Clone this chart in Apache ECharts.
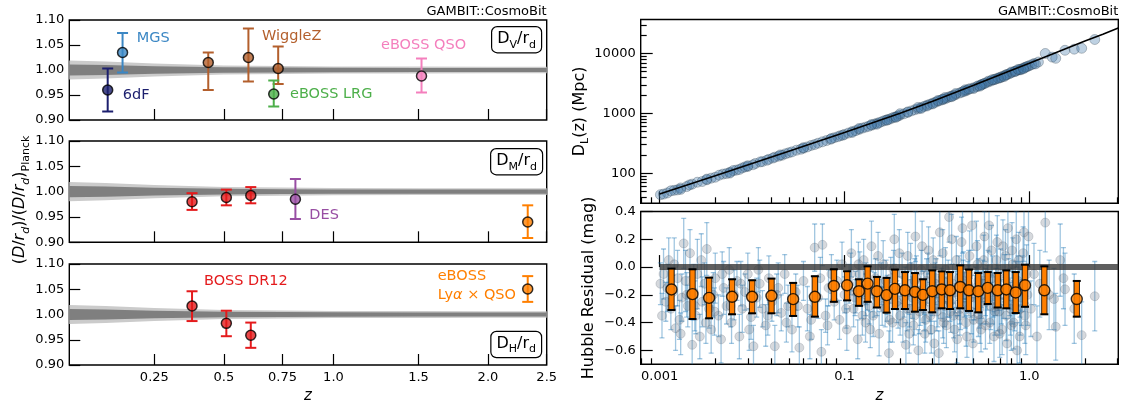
<!DOCTYPE html>
<html><head><meta charset="utf-8">
<script src="https://cdn.jsdelivr.net/npm/echarts@6/dist/echarts.min.js"></script>
<style>html,body{margin:0;padding:0;background:#fff}#c{width:1126px;height:401px}</style>
</head><body><div id="c"></div><script>
const FONT = 'DejaVu Sans';

// ---------- left: BAO ratios ----------
const lxTicks = [0.25, 0.5, 0.75, 1.0, 1.5, 2.0, 2.5];
const lxLabels = ['0.25', '0.5', '0.75', '1.0', '1.5', '2.0', '2.5'];
const bandZ = [0, 0.1, 0.25, 0.5, 0.75, 1.0, 1.5, 2.0, 2.5];
const bandOuter = [0.019, 0.017, 0.013, 0.009, 0.008, 0.007, 0.0068, 0.0065, 0.0065];
const bandInner = [0.011, 0.010, 0.0075, 0.0055, 0.0048, 0.0043, 0.004, 0.004, 0.004];

const dvSurvey = ['6dF', 'MGS', 'WiggleZ', 'WiggleZ', 'WiggleZ', 'eBOSS LRG', 'eBOSS QSO'];
const dvZ = [0.106, 0.15, 0.44, 0.60, 0.73, 0.71, 1.52];
const dvVal = [0.960, 1.035, 1.015, 1.025, 1.003, 0.952, 0.988];
const dvLo = [0.917, 0.995, 0.960, 0.977, 0.972, 0.927, 0.955];
const dvHi = [1.003, 1.074, 1.035, 1.083, 1.047, 0.979, 1.023];

const dmSurvey = ['BOSS DR12', 'BOSS DR12', 'BOSS DR12', 'DES', 'eBOSS Lya'];
const dmZ = [0.38, 0.51, 0.61, 0.81, 2.33];
const dmVal = [0.980, 0.9885, 0.9925, 0.985, 0.940];
const dmLo = [0.964, 0.973, 0.977, 0.946, 0.9085];
const dmHi = [0.997, 1.004, 1.009, 1.025, 0.973];

const dhSurvey = ['BOSS DR12', 'BOSS DR12', 'BOSS DR12', 'eBOSS Lya'];
const dhZ = [0.38, 0.51, 0.61, 2.33];
const dhVal = [1.0168, 0.9825, 0.959, 1.0505];
const dhLo = [0.987, 0.957, 0.934, 1.025];
const dhHi = [1.046, 1.0075, 0.984, 1.076];

// ---------- right: supernovae ----------
const rxTicks = [0.01, 0.1, 1.0];
const rxLabels = ['0.001', '0.1', '1.0'];
const rxMinor = [0.008, 0.009, 0.02, 0.03, 0.04, 0.05, 0.06, 0.07, 0.08, 0.09, 0.2, 0.3, 0.4, 0.5, 0.6, 0.7, 0.8, 0.9, 2, 3];
const dlTicks = [100, 1000, 10000];
const dlLabels = ['100', '1000', '10000'];
const dlMinor = [40, 50, 60, 70, 80, 90, 200, 300, 400, 500, 600, 700, 800, 900, 2000, 3000, 4000, 5000, 6000, 7000, 8000, 9000, 20000, 30000];
const resTicks = [0.4, 0.2, 0.0, -0.2, -0.4, -0.6];
const resLabels = ['0.4', '0.2', '0.0', '\u22120.2', '\u22120.4', '\u22120.6'];

const modelZ = [0.01, 0.02, 0.05, 0.1, 0.2, 0.3, 0.5, 0.7, 1.0, 1.5, 2.0, 2.5, 3.03];
const modelDL = [45.2, 91, 233, 478, 1008, 1594, 2940, 4470, 6860, 11330, 16100, 20950, 26600];

const topZ = [0.0101, 0.011, 0.012, 0.013, 0.014, 0.015, 0.016, 0.018, 0.019, 0.020, 0.022, 0.024, 0.026, 0.028, 0.030, 0.033, 0.036, 0.039, 0.042, 0.046, 0.050, 0.055, 0.060, 0.066, 0.072, 0.080, 0.088, 0.095, 0.10, 0.11, 0.12, 0.13, 0.14, 0.15, 0.16, 0.17, 0.18, 0.19, 0.20, 0.22, 0.24, 0.26, 0.28, 0.30, 0.32, 0.34, 0.36, 0.38, 0.40, 0.43, 0.46, 0.50, 0.53, 0.56, 0.60, 0.64, 0.68, 0.72, 0.76, 0.80, 0.85, 0.90, 0.95, 1.00, 1.06, 1.22, 1.33, 1.39, 1.56, 1.75, 1.92, 2.26];
const topDL = [44, 47, 52, 57, 60, 66, 71, 78, 83, 86, 97, 104, 113, 123, 130, 146, 157, 171, 186, 200, 220, 243, 262, 292, 318, 352, 392, 424, 446, 497, 540, 590, 633, 686, 732, 783, 830, 880, 935, 1040, 1150, 1250, 1370, 1480, 1590, 1700, 1820, 1950, 2060, 2250, 2430, 2680, 2890, 3080, 3340, 3620, 3900, 4180, 4480, 4760, 5120, 5480, 5860, 6250, 6780, 10000, 8700, 8300, 11300, 11800, 12200, 17100];
// further supernovae of the top panel, [z, D_L]
const topMore = [[0.0105,45],[0.0115,51],[0.0125,53],[0.0145,64],[0.017,73],[0.021,93],[0.023,99],[0.025,111],[0.027,116],[0.029,128],[0.032,139],[0.035,155],[0.038,165],[0.041,180],[0.044,193],[0.048,212],[0.052,228],[0.058,252],[0.063,276],[0.069,302],[0.076,336],[0.084,370],[0.092,408],[0.098,433],[0.105,470],[0.115,515],[0.125,568],[0.135,608],[0.145,662],[0.155,705],[0.165,760],[0.175,800],[0.185,860],[0.195,905],[0.21,985],[0.23,1100],[0.25,1190],[0.27,1310],[0.29,1420],[0.31,1530],[0.33,1650],[0.35,1750],[0.37,1890],[0.39,1990],[0.42,2190],[0.45,2360],[0.48,2580],[0.52,2800],[0.55,3020],[0.58,3220],[0.62,3480],[0.66,3760],[0.70,4040],[0.74,4330],[0.78,4600],[0.83,4980],[0.88,5330],[0.93,5720],[0.98,6100],[1.03,6500],[0.2,990],[0.3,1440],[0.4,2150],[0.5,2600],[0.6,3450],[0.7,3950],[0.8,4900],[0.9,5350],[0.15,660],[0.12,560],[0.25,1260],[0.35,1840],[0.45,2480],[0.55,2970],[0.65,3690],[0.75,4390],[0.018,80],[0.03,134],[0.06,268],[0.085,380],[0.17,770],[0.22,1060],[0.28,1330],[0.34,1730],[0.44,2330],[0.57,3140],[0.68,3850],[0.84,5060],[0.96,5950],[1.12,7200],
 [0.013,54],[0.024,101],[0.045,203],[0.11,480],[0.14,650],[0.19,860],[0.26,1210],[0.32,1640],[0.38,1900],[0.47,2540],[0.54,2850],[0.63,3660],[0.73,4110],[0.87,5420],[0.93,5560],[1.08,6700]];

const snZ = [0.0101,0.0105,0.0108,0.0112,0.0115,0.0118,0.0122,0.0125,0.0128,0.0132,0.0135,0.0138,0.0142,0.0146,0.0150,0.0153,0.0157,0.0160,0.0165,0.0170,0.0175,0.0180,0.0185,0.0190,0.0195,0.0200,0.0208,0.0215,0.0222,0.0230,0.0238,0.0245,0.0253,0.0262,0.0270,0.0280,0.0290,0.0300,0.0312,0.0322,0.0335,0.0348,0.0360,0.0375,0.0390,0.0405,0.0420,0.0438,0.0455,0.0475,0.0495,0.0520,0.0545,0.0570,0.0600,0.0630,0.0660,0.0690,0.0720,0.0750,0.0760,0.0790,0.0820,0.0850,
 0.088,0.091,0.094,0.097,0.100,0.103,0.106,0.109,0.112,0.115,0.118,0.121,0.124,0.127,0.130,0.133,0.136,0.140,0.143,0.147,0.150,0.154,0.158,0.162,0.166,0.170,0.174,0.178,0.182,0.186,0.190,0.195,0.200,
 0.205,0.210,0.215,0.220,0.225,0.230,0.236,0.242,0.248,0.254,0.260,0.266,0.272,0.278,0.285,0.292,0.299,0.306,0.313,0.320,0.328,0.336,0.344,0.352,0.360,0.368,0.376,0.385,0.394,0.403,0.412,0.421,0.430,0.440,0.450,0.460,0.470,0.480,0.490,0.500,0.512,0.524,0.536,0.548,0.560,0.572,0.585,0.598,0.611,0.624,0.637,0.650,0.664,0.678,0.692,
 0.706,0.720,0.735,0.750,0.766,0.782,0.798,0.815,0.832,0.850,0.868,0.887,0.906,0.926,0.946,0.967,0.990,
 1.02,1.06,1.10,1.14,1.22,1.28,1.36,1.39,1.47,1.53,1.56,1.75,1.92,2.26];
const snRes = [-0.12,-0.05,-0.25,0.05,-0.30,-0.18,-0.44,-0.08,-0.38,-0.22,0.17,-0.10,-0.28,0.10,-0.56,-0.18,-0.35,-0.05,-0.50,-0.25,-0.12,0.13,-0.30,-0.45,-0.20,-0.08,-0.35,-0.52,-0.15,-0.28,-0.02,-0.40,-0.20,-0.10,-0.50,-0.30,-0.18,-0.05,-0.36,-0.57,-0.22,-0.12,-0.30,-0.42,-0.08,-0.25,-0.57,-0.15,-0.33,-0.05,-0.28,-0.45,-0.18,-0.58,-0.10,-0.30,-0.38,0.14,-0.22,-0.61,0.16,-0.35,-0.15,-0.05,
 -0.25,-0.10,-0.38,0.02,-0.20,-0.45,-0.12,0.10,-0.30,-0.18,-0.52,-0.05,-0.25,0.05,-0.40,-0.15,-0.28,0.15,-0.35,-0.08,-0.22,-0.48,-0.12,0.02,-0.30,-0.20,-0.62,-0.08,-0.40,0.20,-0.15,-0.28,-0.35,
 -0.05,-0.22,-0.56,0.08,-0.30,-0.12,-0.42,0.22,-0.18,-0.32,-0.02,-0.25,-0.48,-0.10,0.12,-0.35,-0.20,-0.55,-0.08,-0.28,0.25,-0.15,-0.40,-0.02,-0.22,0.36,-0.32,-0.12,-0.45,0.05,-0.20,-0.35,0.18,-0.10,-0.28,-0.50,-0.05,-0.22,0.30,-0.38,-0.15,0.02,-0.30,-0.45,-0.10,0.22,-0.25,-0.05,-0.40,0.12,-0.20,-0.32,0.05,-0.15,-0.48,
 -0.25,0.15,-0.08,-0.35,0.28,-0.18,-0.42,0.02,-0.28,0.20,-0.10,-0.50,-0.22,0.10,-0.35,-0.05,0.22,
 -0.30,-0.05,-0.50,-0.12,0.32,-0.20,-0.23,-0.43,0.05,-0.08,-0.16,-0.30,-0.49,-0.21];
const snErr = [0.15,0.18,0.14,0.16,0.15,0.12,0.16,0.20,0.14,0.17,0.18,0.22,0.15,0.17,0.18,0.20,0.13,0.25,0.16,0.18,0.15,0.19,0.14,0.17,0.16,0.18,0.15,0.17,0.19,0.13,0.16,0.15,0.18,0.14,0.16,0.17,0.13,0.15,0.16,0.15,0.14,0.17,0.13,0.15,0.16,0.14,0.15,0.18,0.13,0.14,0.15,0.16,0.13,0.15,0.14,0.16,0.14,0.17,0.15,0.16,0.15,0.12,0.13,0.14,
 0.13,0.15,0.14,0.16,0.13,0.15,0.14,0.17,0.13,0.15,0.14,0.16,0.12,0.15,0.14,0.16,0.13,0.18,0.15,0.14,0.13,0.16,0.15,0.17,0.13,0.14,0.16,0.15,0.14,0.18,0.13,0.16,0.14,
 0.15,0.14,0.16,0.17,0.13,0.15,0.14,0.18,0.13,0.16,0.14,0.15,0.14,0.16,0.17,0.13,0.15,0.16,0.14,0.15,0.17,0.14,0.15,0.16,0.14,0.18,0.15,0.14,0.16,0.17,0.15,0.14,0.18,0.15,0.16,0.15,0.17,0.14,0.18,0.16,0.15,0.17,0.14,0.16,0.15,0.18,0.16,0.17,0.15,0.18,0.16,0.17,0.18,0.16,0.17,
 0.16,0.19,0.17,0.18,0.19,0.17,0.18,0.19,0.18,0.20,0.18,0.19,0.20,0.19,0.20,0.21,0.22,
 0.20,0.22,0.22,0.24,0.21,0.25,0.22,0.24,0.26,0.22,0.26,0.25,0.24,0.25];
// further supernovae of the residual panel, [z, residual, error]
const snMore = [[0.102,-0.30,0.14],[0.108,-0.05,0.15],[0.114,-0.22,0.13],[0.119,0.02,0.16],[0.125,-0.35,0.14],[0.131,-0.12,0.15],[0.138,-0.45,0.13],[0.145,-0.20,0.16],[0.152,0.08,0.17],[0.160,-0.28,0.14],[0.168,-0.10,0.15],[0.176,-0.38,0.16],[0.184,-0.02,0.14],[0.192,-0.25,0.15],[0.198,0.10,0.17],[0.207,-0.40,0.14],[0.213,-0.15,0.15],[0.218,-0.30,0.16],[0.224,-0.48,0.14],[0.228,0.00,0.17],[0.233,-0.22,0.15],[0.239,-0.35,0.14],[0.245,-0.08,0.16],[0.251,-0.60,0.15],[0.257,-0.28,0.14],[0.263,0.15,0.18],[0.269,-0.18,0.15],[0.275,-0.38,0.16],[0.282,-0.05,0.15],[0.288,-0.25,0.14],[0.295,-0.45,0.17],[0.302,0.05,0.16],[0.309,-0.15,0.15],[0.316,-0.32,0.14],[0.324,-0.62,0.16],[0.332,-0.22,0.15],[0.340,0.10,0.17],[0.348,-0.28,0.15],[0.356,-0.42,0.16],[0.364,-0.10,0.15],[0.372,-0.25,0.14],[0.380,0.20,0.18],[0.389,-0.35,0.16],[0.398,-0.18,0.15],[0.407,-0.52,0.17],[0.416,-0.08,0.16],[0.425,-0.30,0.15],[0.435,0.28,0.18],[0.445,-0.20,0.16],[0.455,-0.40,0.17],[0.465,-0.12,0.16],[0.475,0.08,0.18],[0.485,-0.32,0.16],[0.495,-0.55,0.17],[0.506,-0.22,0.16],[0.518,0.15,0.18],[0.530,-0.10,0.16],[0.542,-0.38,0.17],[0.554,-0.25,0.16],[0.566,0.05,0.18],[0.579,-0.42,0.17],[0.592,-0.15,0.16],[0.605,0.30,0.19],[0.618,-0.28,0.17],[0.631,-0.08,0.16],[0.644,-0.50,0.18],[0.657,-0.18,0.17],[0.671,0.18,0.19],[0.685,-0.32,0.17],[0.699,-0.05,0.18],[0.713,-0.45,0.18],[0.728,-0.20,0.17],[0.743,0.08,0.19],[0.758,-0.55,0.18],[0.774,-0.12,0.18],[0.790,-0.30,0.19],[0.806,0.12,0.20],[0.823,-0.40,0.19],[0.841,-0.15,0.19],[0.859,-0.60,0.20],[0.877,0.05,0.20],[0.896,-0.30,0.19],[0.916,-0.12,0.20],[0.936,0.25,0.21],[0.957,-0.42,0.21],[0.978,-0.20,0.22],
 [0.0103,-0.35,0.16],[0.0110,-0.15,0.17],[0.0120,0.02,0.19],[0.0130,-0.48,0.15],[0.0140,-0.20,0.16],[0.0155,-0.28,0.18],[0.0168,0.05,0.19],[0.0178,-0.40,0.15],[0.0198,-0.32,0.17],[0.0218,-0.05,0.16],[0.0242,-0.28,0.15],[0.0275,-0.12,0.16],[0.0305,-0.45,0.15],[0.0342,-0.02,0.16],[0.0385,-0.35,0.14],[0.0430,-0.20,0.15],[0.0485,-0.40,0.14],[0.0560,-0.28,0.15],[0.0650,-0.50,0.16],[0.0740,-0.08,0.15],[0.0810,-0.42,0.14],
 [0.22,-0.18,0.15],[0.27,-0.30,0.16],[0.31,-0.12,0.15],[0.37,-0.20,0.16],[0.42,-0.26,0.15],[0.47,-0.16,0.17],[0.53,-0.34,0.16],[0.58,-0.18,0.17],[0.63,-0.24,0.17],[0.17,-0.24,0.15],[0.13,-0.20,0.15],[0.24,-0.10,0.16],[0.34,-0.36,0.15],[0.44,-0.06,0.17],[0.55,-0.20,0.17],[0.67,-0.28,0.18],[0.81,-0.22,0.19],[0.89,-0.16,0.20]];

const binZ = [0.01159,0.01506,0.01852,0.02466,0.03165,0.04029,0.05277,0.06915,0.08762,0.1033,0.1197,0.1334,0.1498,0.169,0.1875,0.2124,0.2406,0.2657,0.2985,0.3357,0.3722,0.423,0.4716,0.5296,0.5955,0.6745,0.7508,0.844,0.9478,1.206,1.806];
const binRes = [-0.161,-0.195,-0.222,-0.214,-0.214,-0.207,-0.231,-0.214,-0.136,-0.131,-0.174,-0.119,-0.174,-0.202,-0.157,-0.167,-0.179,-0.200,-0.174,-0.161,-0.167,-0.143,-0.167,-0.174,-0.150,-0.167,-0.161,-0.183,-0.131,-0.167,-0.230];
const binLo = [-0.309,-0.374,-0.369,-0.340,-0.333,-0.333,-0.352,-0.357,-0.250,-0.240,-0.279,-0.250,-0.291,-0.328,-0.302,-0.302,-0.321,-0.309,-0.326,-0.297,-0.302,-0.297,-0.316,-0.326,-0.266,-0.291,-0.297,-0.331,-0.286,-0.340,-0.357];
const binHi = [-0.011,-0.016,-0.076,-0.088,-0.095,-0.083,-0.114,-0.066,-0.016,-0.030,-0.088,0.005,-0.071,-0.078,-0.018,-0.036,-0.043,-0.088,-0.024,-0.031,-0.036,0.012,-0.018,-0.043,-0.036,-0.043,-0.024,-0.036,0.017,0.005,-0.100];

// ---------- styles ----------
const surveyColor = {'6dF':'#1c1f6e','MGS':'#3b87c4','WiggleZ':'#b35f2c','eBOSS LRG':'#4daf4a','eBOSS QSO':'#f47fbd','BOSS DR12':'#e41a1c','DES':'#984ea3','eBOSS Lya':'#ff7f00'};
const L = z => Math.log(1 + z);
const XMAX = L(2.5);
const tickStyle = {color:'#000', width:1.2};
const lab = {color:'#000', fontFamily:FONT, fontSize:13};

const grids = [
  {left:69.3, top:20, width:477.4, height:100},
  {left:69.3, top:141, width:477.4, height:101.3},
  {left:69.3, top:264, width:477.4, height:101},
  {left:640.7, top:19.5, width:477.6, height:183.8},
  {left:640.7, top:211.5, width:477.6, height:152.8}
].map(g => Object.assign({show:true, borderColor:'#000', borderWidth:1.4, backgroundColor:'rgba(0,0,0,0)', containLabel:false, outerBoundsMode:'none'}, g));

function pick(ticks, labels, v, log) {
  const k = ticks.findIndex(t => log ? Math.abs(Math.log10(t) - Math.log10(v)) < 1e-6 : Math.abs(t - v) < 1e-6);
  return k >= 0 ? labels[k] : '';
}

const xAxis = [];
const yAxis = [];
for (let i = 0; i < 3; i++) {
  xAxis.push({type:'value', gridIndex:i, min:0, max:XMAX, splitLine:{show:false}, axisLine:{show:false},
    axisTick:{show:true, inside:true, length:11, customValues:lxTicks.map(L), lineStyle:tickStyle},
    axisLabel:Object.assign({show:i === 2, margin:6, customValues:lxTicks.map(L), formatter:v => pick(lxTicks.map(L), lxLabels, v, false)}, lab),
    name:i === 2 ? 'z' : '', nameLocation:'middle', nameGap:24,
    nameTextStyle:{fontFamily:FONT, fontStyle:'italic', fontSize:15, color:'#000'}});
  yAxis.push({type:'value', gridIndex:i, min:0.9, max:1.1, interval:0.05, splitLine:{show:false}, axisLine:{show:false},
    axisTick:{show:true, inside:true, length:11, lineStyle:tickStyle},
    axisLabel:Object.assign({margin:5, formatter:v => v.toFixed(2)}, lab)});
}
const RXMIN = 0.0079, RXMAX = 3.03;
[[3, false], [4, true]].forEach(([g, withLab]) => {
  xAxis.push({type:'log', logBase:10, gridIndex:g, min:RXMIN, max:RXMAX, splitLine:{show:false}, axisLine:{show:false},
    axisTick:{show:true, inside:true, length:12, customValues:rxTicks, lineStyle:tickStyle},
    axisLabel:Object.assign({show:withLab, margin:6, customValues:rxTicks, formatter:v => pick(rxTicks, rxLabels, v, true)}, lab),
    name:withLab ? 'z' : '', nameLocation:'middle', nameGap:24,
    nameTextStyle:{fontFamily:FONT, fontStyle:'italic', fontSize:15, color:'#000'}});
  xAxis.push({type:'log', logBase:10, gridIndex:g, position:'bottom', min:RXMIN, max:RXMAX, splitLine:{show:false}, axisLine:{show:false},
    axisTick:{show:true, inside:true, length:6, customValues:rxMinor, lineStyle:tickStyle},
    axisLabel:{show:false}});
});
yAxis.push({type:'log', logBase:10, gridIndex:3, min:31.6, max:36900, splitLine:{show:false}, axisLine:{show:false},
  axisTick:{show:true, inside:true, length:12, customValues:dlTicks, lineStyle:tickStyle},
  axisLabel:Object.assign({margin:5, customValues:dlTicks, formatter:v => pick(dlTicks, dlLabels, v, true)}, lab),
  name:'{n|D}{s|L}{n|(z) (Mpc)}', nameLocation:'middle', nameGap:46,
  nameTextStyle:{rich:{n:{fontFamily:FONT, fontSize:16, color:'#000', lineHeight:22}, s:{fontFamily:FONT, fontSize:11, color:'#000', lineHeight:12, verticalAlign:'bottom'}}}});
yAxis.push({type:'log', logBase:10, gridIndex:3, position:'left', min:31.6, max:36900, splitLine:{show:false}, axisLine:{show:false},
  axisTick:{show:true, inside:true, length:6, customValues:dlMinor, lineStyle:tickStyle}, axisLabel:{show:false}});
yAxis.push({type:'value', gridIndex:4, min:-0.7, max:0.4, splitLine:{show:false}, axisLine:{show:false},
  axisTick:{show:true, inside:true, length:12, customValues:resTicks, lineStyle:tickStyle},
  axisLabel:Object.assign({margin:5, customValues:resTicks, formatter:v => pick(resTicks, resLabels, v, false)}, lab),
  name:'Hubble Residual (mag)', nameLocation:'middle', nameGap:44,
  nameTextStyle:{fontFamily:FONT, fontSize:16, color:'#000'}});

// ---------- series builders ----------
function bandSeries(gi) {
  const mk = (half, color) => ({
    type:'custom', xAxisIndex:gi, yAxisIndex:gi, silent:true, clip:true, z:1, data:[[0, 1]],
    renderItem:(p, api) => {
      const up = bandZ.map((z, i) => api.coord([L(z), 1 + half[i]]));
      const dn = bandZ.map((z, i) => api.coord([L(z), 1 - half[i]])).reverse();
      return {type:'polygon', shape:{points:up.concat(dn)}, style:{fill:color}};
    }
  });
  return [mk(bandOuter, '#cbcbcb'), mk(bandInner, '#7f7f7f')];
}
function errSeries(gi, zs, lo, hi, surveys) {
  return {type:'custom', xAxisIndex:gi, yAxisIndex:gi, silent:true, z:3,
    data:zs.map((z, i) => [L(z), lo[i], hi[i], i]),
    renderItem:(p, api) => {
      const i = api.value(3);
      const a = api.coord([api.value(0), api.value(1)]), b = api.coord([api.value(0), api.value(2)]);
      const st = {stroke:surveyColor[surveys[i]], lineWidth:2};
      const c = 5.5;
      return {type:'group', children:[
        {type:'line', shape:{x1:a[0], y1:a[1], x2:b[0], y2:b[1]}, style:st},
        {type:'line', shape:{x1:a[0] - c, y1:a[1], x2:a[0] + c, y2:a[1]}, style:st},
        {type:'line', shape:{x1:b[0] - c, y1:b[1], x2:b[0] + c, y2:b[1]}, style:st}]};
    }};
}
function ptSeries(gi, zs, vals, surveys) {
  return {type:'scatter', xAxisIndex:gi, yAxisIndex:gi, z:4, symbol:'circle', symbolSize:10, silent:true,
    data:zs.map((z, i) => [L(z), vals[i]]),
    itemStyle:{color:p => surveyColor[surveys[p.dataIndex]], borderColor:'#000', borderWidth:1.5}};
}

const series = [];
series.push(...bandSeries(0), errSeries(0, dvZ, dvLo, dvHi, dvSurvey), ptSeries(0, dvZ, dvVal, dvSurvey));
series.push(...bandSeries(1), errSeries(1, dmZ, dmLo, dmHi, dmSurvey), ptSeries(1, dmZ, dmVal, dmSurvey));
series.push(...bandSeries(2), errSeries(2, dhZ, dhLo, dhHi, dhSurvey), ptSeries(2, dhZ, dhVal, dhSurvey));

// top right: distances
const topPts = topZ.map((z, i) => [z, topDL[i]]).concat(topMore);
series.push({type:'scatter', xAxisIndex:3, yAxisIndex:3, z:2, symbol:'circle', symbolSize:10, silent:true,
  data:topPts,
  itemStyle:{color:'rgba(62,120,170,0.42)', borderColor:'rgba(40,55,70,0.38)', borderWidth:1}});
series.push({type:'line', xAxisIndex:3, yAxisIndex:3, z:3, symbol:'none', silent:true,
  data:modelZ.map((z, i) => [z, modelDL[i]]), lineStyle:{color:'#000', width:1.6}});

// residuals
const nSN = Math.min(snZ.length, snRes.length, snErr.length);
const snPts = Array.from({length:nSN}, (_, i) => [snZ[i], snRes[i], snErr[i]]).concat(snMore);
series.push({type:'custom', xAxisIndex:5, yAxisIndex:5, silent:true, z:2, clip:true,
  data:snPts.map(p => [p[0], p[1] - p[2], p[1] + p[2]]),
  renderItem:(p, api) => {
    const a = api.coord([api.value(0), api.value(1)]), b = api.coord([api.value(0), api.value(2)]);
    const st = {stroke:'rgba(31,119,180,0.42)', lineWidth:1.3};
    return {type:'group', children:[
      {type:'line', shape:{x1:a[0], y1:a[1], x2:b[0], y2:b[1]}, style:st},
      {type:'line', shape:{x1:a[0] - 2.5, y1:a[1], x2:a[0] + 2.5, y2:a[1]}, style:st},
      {type:'line', shape:{x1:b[0] - 2.5, y1:b[1], x2:b[0] + 2.5, y2:b[1]}, style:st}]};
  }});
series.push({type:'scatter', xAxisIndex:5, yAxisIndex:5, z:3, symbol:'circle', symbolSize:9, silent:true,
  data:snPts.map(p => [p[0], p[1]]),
  itemStyle:{color:'rgba(100,112,125,0.33)', borderColor:'rgba(70,80,95,0.25)', borderWidth:1}});
series.push({type:'line', xAxisIndex:5, yAxisIndex:5, z:4, symbol:'none', silent:true,
  data:[[0.01, 0], [RXMAX, 0]], lineStyle:{color:'rgba(55,55,55,0.8)', width:6}});
series.push({type:'custom', xAxisIndex:5, yAxisIndex:5, silent:true, z:5,
  data:binZ.map((z, i) => [z, binLo[i], binHi[i]]),
  renderItem:(p, api) => {
    const a = api.coord([api.value(0), api.value(1)]), b = api.coord([api.value(0), api.value(2)]);
    const c = 4;
    return {type:'group', children:[
      {type:'rect', shape:{x:a[0] - 2.7, y:b[1], width:5.4, height:a[1] - b[1]}, style:{fill:'#ff7f00', stroke:'#000', lineWidth:0.8}},
      {type:'line', shape:{x1:a[0] - c, y1:a[1], x2:a[0] + c, y2:a[1]}, style:{stroke:'#000', lineWidth:2}},
      {type:'line', shape:{x1:b[0] - c, y1:b[1], x2:b[0] + c, y2:b[1]}, style:{stroke:'#000', lineWidth:2}}]};
  }});
series.push({type:'scatter', xAxisIndex:5, yAxisIndex:5, z:6, symbol:'circle', symbolSize:11, silent:true,
  data:binZ.map((z, i) => [z, binRes[i]]),
  itemStyle:{color:'#ff7f00', borderColor:'#000', borderWidth:1.4}});

// ---------- text ----------
const txt = (x, y, text, color, extra) => Object.assign({type:'text', x:x, y:y, silent:true, z:100,
  style:{text:text, fill:color, font:'14.5px "' + FONT + '"', align:'left', verticalAlign:'middle'}}, extra || {});
const boxRich = {
  n:{fontFamily:FONT, fontSize:16, fill:'#000', color:'#000', lineHeight:22},
  s:{fontFamily:FONT, fontSize:11, fill:'#000', color:'#000', lineHeight:12, verticalAlign:'bottom'}
};
const box = (xr, yc, sub) => ({type:'text', x:xr, y:yc, silent:true, z:100,
  style:{text:'{n|D}{s|' + sub + '}{n|/r}{s|d}', rich:boxRich, align:'right', verticalAlign:'middle',
    borderColor:'#000', borderWidth:1.2, borderRadius:5, padding:[1, 5, 2, 5], backgroundColor:'#fff'}});
const yRich = {
  n:{fontFamily:FONT, fontSize:16, color:'#000', fill:'#000', lineHeight:24},
  i:{fontFamily:FONT, fontSize:16, fontStyle:'italic', color:'#000', fill:'#000', lineHeight:24},
  si:{fontFamily:FONT, fontSize:11, fontStyle:'italic', color:'#000', fill:'#000', lineHeight:12, verticalAlign:'bottom'},
  s:{fontFamily:FONT, fontSize:11, color:'#000', fill:'#000', lineHeight:12, verticalAlign:'bottom'}
};
const gStyle = t => ({style:{text:t, fill:'#000', font:'13px "' + FONT + '"', align:'right', verticalAlign:'middle'}});

const graphic = [
  txt(546.7, 11.5, '', '#000', gStyle('GAMBIT::CosmoBit')),
  txt(1118.3, 11.5, '', '#000', gStyle('GAMBIT::CosmoBit')),
  txt(136.7, 38.3, 'MGS', surveyColor['MGS']),
  txt(122.7, 95, '6dF', surveyColor['6dF']),
  txt(262, 36.7, 'WiggleZ', surveyColor['WiggleZ']),
  txt(290, 94, 'eBOSS LRG', surveyColor['eBOSS LRG']),
  txt(381, 45, 'eBOSS QSO', surveyColor['eBOSS QSO']),
  txt(309.3, 215, 'DES', surveyColor['DES']),
  txt(204, 281.7, 'BOSS DR12', surveyColor['BOSS DR12']),
  txt(437.7, 276.7, 'eBOSS', surveyColor['eBOSS Lya']),
  {type:'text', x:437.7, y:295, silent:true, z:100, style:{text:'{a|Ly}{b|\u03b1}{a| \u00d7 QSO}', align:'left', verticalAlign:'middle',
    rich:{a:{fontFamily:FONT, fontSize:14.5, color:surveyColor['eBOSS Lya'], fill:surveyColor['eBOSS Lya']},
          b:{fontFamily:FONT, fontSize:14.5, fontStyle:'italic', color:surveyColor['eBOSS Lya'], fill:surveyColor['eBOSS Lya']}}}},
  box(541, 39.7, 'V'),
  box(542, 161.7, 'M'),
  box(541, 344.5, 'H'),
  {type:'text', x:20, y:200, rotation:Math.PI / 2, silent:true, z:100,
    style:{text:'{n|(}{i|D}{n|/}{i|r}{si|d}{n|)/(}{i|D}{n|/}{i|r}{si|d}{n|)}{s|Planck}', rich:yRich, align:'center', verticalAlign:'middle'}}
];

const chart = echarts.init(document.getElementById('c'), null, {renderer:'canvas'});
chart.setOption({
  animation:false,
  backgroundColor:'#fff',
  textStyle:{fontFamily:FONT},
  grid:grids, xAxis:xAxis, yAxis:yAxis, series:series, graphic:graphic
});
</script></body></html>
